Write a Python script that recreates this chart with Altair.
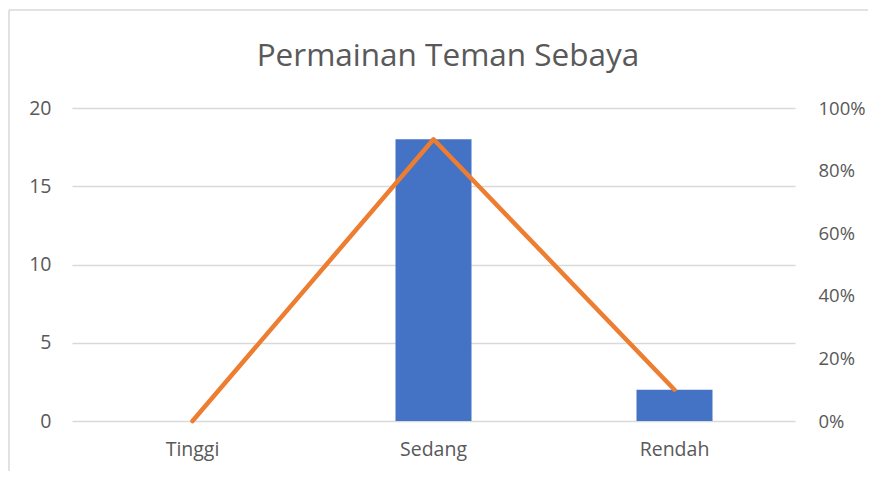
import altair as alt
import pandas as pd

categories = ["Tinggi", "Sedang", "Rendah"]
counts = [0, 18, 2]
percents = [0.0, 0.90, 0.10]
title_text = "Permainan Teman Sebaya"

df = pd.DataFrame({"cat": categories, "count": counts, "pct": percents})

FONT = "Open Sans"
GRAY = "#595959"
LSIZE = 19.5

x_enc = alt.X("cat:N", sort=categories,
              scale=alt.Scale(paddingInner=0, paddingOuter=0),
              axis=alt.Axis(title=None, labelAngle=0, domain=False, ticks=False,
                            labelPadding=19, labelFontSize=LSIZE, labelColor=GRAY,
                            labelFont=FONT))

bars = alt.Chart(df).mark_bar(size=76, color="#4472C4").encode(
    x=x_enc,
    y=alt.Y("count:Q", scale=alt.Scale(domain=[0, 20], nice=False),
            axis=alt.Axis(title=None, values=[0, 5, 10, 15, 20], domain=False,
                          ticks=False, labelPadding=21, labelFontSize=LSIZE,
                          labelColor=GRAY, labelFont=FONT, gridColor="#D9D9D9",
                          gridWidth=1.3))
)

line = alt.Chart(df).mark_line(color="#ED7D31", strokeWidth=4.5, strokeCap="round",
                               strokeJoin="round").encode(
    x=alt.X("cat:N", sort=categories),
    y=alt.Y("pct:Q", scale=alt.Scale(domain=[0, 1], nice=False),
            axis=alt.Axis(title=None, orient="right", format=".0%",
                          values=[0, 0.2, 0.4, 0.6, 0.8, 1.0], domain=False,
                          ticks=False, grid=False, labelPadding=23,
                          labelFontSize=18.5, labelColor=GRAY, labelFont=FONT))
)

one = pd.DataFrame({"t": [title_text]})

border_top = alt.Chart(one).mark_rule(stroke="#D9D9D9", strokeWidth=1.5).encode(
    x=alt.value(-63), x2=alt.value(900), y=alt.value(-98)
)
border_left = alt.Chart(one).mark_rule(stroke="#D9D9D9", strokeWidth=1.5).encode(
    x=alt.value(-63), y=alt.value(-98), y2=alt.value(600)
)

title = alt.Chart(one).mark_text(font=FONT, fontSize=31.5, color=GRAY,
                                 baseline="alphabetic", align="center").encode(
    text="t:N", x=alt.value(376), y=alt.value(-42)
)

chart = alt.layer(border_top, border_left, title, bars, line).resolve_scale(
    y="independent").properties(
    width=723, height=313,
    autosize=alt.AutoSizeParams(type="none"),
    padding={"left": 64, "top": 100, "right": 73, "bottom": 50},
).configure_view(stroke=None)

chart.save("out.html", embed_options={"renderer": "svg", "actions": False})
